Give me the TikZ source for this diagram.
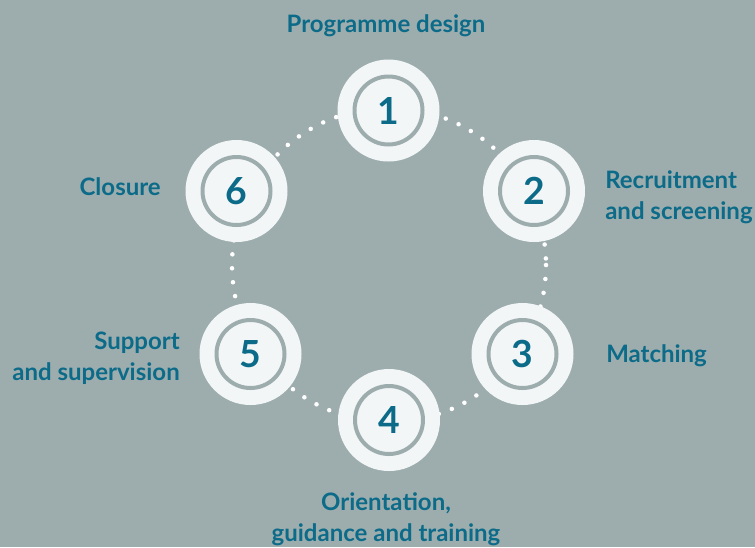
\documentclass[tikz,border=0pt]{standalone}
\usepackage{fontspec}
\setmainfont{Lato}
\definecolor{bgcol}{HTML}{9DADAE}
\definecolor{inkteal}{HTML}{0C6B88}
\definecolor{disc}{HTML}{F3F6F7}
\tikzset{
  stage/.style={circle, fill=disc, minimum size=76.5pt, inner sep=0pt,
    font=\fontsize{28}{30}\selectfont\bfseries, text=inkteal},
  ring/.style={draw=bgcol, line width=3pt},
  dots/.style={draw=white, line width=3.4pt, line cap=round, dash pattern=on 0pt off 10.5pt},
  caption/.style={font=\fontsize{18}{23.5}\selectfont\bfseries, text=inkteal, inner sep=0pt}
}
\begin{document}
\begin{tikzpicture}[x=0.75pt,y=-0.75pt]
  \fill[bgcol] (0,0) rectangle (755,547);
  \draw[dots] (389,265) circle [radius=157];
  % stages
  \node[stage] (s1) at (388.5,110.5) {1};
  \node[stage] (s2) at (534,191) {2};
  \node[stage] (s3) at (522.5,354) {3};
  \node[stage] (s4) at (389,420) {4};
  \node[stage] (s5) at (250.5,354) {5};
  \node[stage] (s6) at (236.5,191) {6};
  \foreach\i in {1,...,6}\draw[ring] (s\i) circle (25.5pt);
  % captions
  \node[caption] (l1) at (386,26) {Programme design};
  \node[caption, align=left, anchor=west] (l2) at (605,197) {Recruitment\\and screening};
  \node[caption, anchor=west] (l3) at (606,356) {Matching};
  \node[caption, align=center] (l4) at (386,519) {Orientation,\\guidance and training};
  \node[caption, align=right, anchor=east] (l5) at (180,358) {Support\\and supervision};
  \node[caption, anchor=east] (l6) at (161,187) {Closure};
\end{tikzpicture}
\end{document}
